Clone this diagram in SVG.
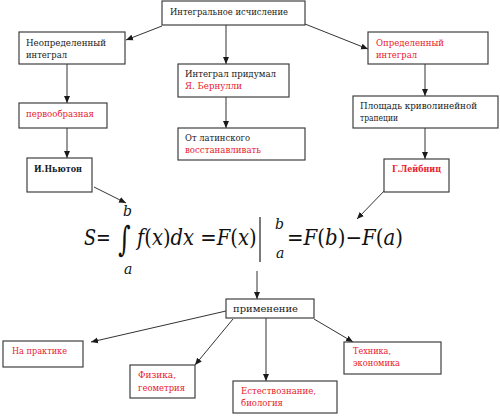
<svg xmlns="http://www.w3.org/2000/svg" width="500" height="417" viewBox="0 0 500 417">
<defs>
<marker id="ah" markerUnits="userSpaceOnUse" markerWidth="8" markerHeight="8" viewBox="0 0 8 8" refX="7" refY="4" orient="auto">
<path d="M0,1 L7,4 L0,7 Z" fill="#1a1a1a"/>
</marker>
</defs>
<style>
.box{fill:#fff;stroke:#404040;stroke-width:1.2}
text{font-family:'DejaVu Serif','Liberation Serif',serif}
.t{font-size:10px;fill:#1a1a1a}
.r{fill:#e8202e}
.b{font-weight:bold;font-size:9.5px}
.c{stroke:#333;stroke-width:1;fill:none;marker-end:url(#ah)}
.m{font-size:22px;fill:#111}
.i{font-style:italic}
.s{font-size:14px}
</style>
<rect width="500" height="417" fill="#fff"/>
<g id="connectors">
<line class="c" x1="162" y1="26" x2="126" y2="40"/>
<line class="c" x1="226" y1="25" x2="226" y2="64"/>
<line class="c" x1="305" y1="24" x2="368" y2="49"/>
<line class="c" x1="67" y1="64" x2="67" y2="103"/>
<line class="c" x1="67" y1="128" x2="67" y2="158"/>
<line class="c" x1="226" y1="97" x2="226" y2="128"/>
<line class="c" x1="425" y1="64" x2="425" y2="96"/>
<line class="c" x1="425" y1="128" x2="425" y2="159"/>
<line class="c" x1="94" y1="187" x2="126" y2="203"/>
<line class="c" x1="387" y1="188" x2="357" y2="219"/>
<line class="c" x1="257" y1="271" x2="257" y2="299"/>
<line class="c" x1="226" y1="311" x2="91" y2="342"/>
<line class="c" x1="233" y1="319" x2="195" y2="365"/>
<line class="c" x1="266" y1="318" x2="266" y2="381"/>
<line class="c" x1="314" y1="319" x2="353" y2="342"/>
</g>
<g id="n-top"><rect class="box" x="162" y="1" width="143" height="24"/><text class="t" x="170" y="15" textLength="118" lengthAdjust="spacingAndGlyphs">Интегральное исчисление</text></g>
<g id="n-indef"><rect class="box" x="19" y="32" width="106" height="32"/><text class="t" x="26" y="46" textLength="80" lengthAdjust="spacingAndGlyphs">Неопределенный</text><text class="t" x="26" y="58" textLength="41" lengthAdjust="spacingAndGlyphs">интеграл</text></g>
<g id="n-perv"><rect class="box" x="19" y="103" width="88" height="25"/><text class="t r" x="26" y="117" textLength="68" lengthAdjust="spacingAndGlyphs">первообразная</text></g>
<g id="n-newton"><rect class="box" x="27" y="158" width="65" height="34"/><text class="t b" x="34" y="172" textLength="48" lengthAdjust="spacingAndGlyphs">И.Ньютон</text></g>
<g id="n-bern"><rect class="box" x="178" y="64" width="111" height="33"/><text class="t" x="185" y="77" textLength="91" lengthAdjust="spacingAndGlyphs">Интеграл придумал</text><text class="t r" x="185" y="89" textLength="57" lengthAdjust="spacingAndGlyphs">Я. Бернулли</text></g>
<g id="n-lat"><rect class="box" x="178" y="128" width="127" height="32"/><text class="t" x="185" y="141" textLength="65" lengthAdjust="spacingAndGlyphs">От латинского</text><text class="t r" x="185" y="153" textLength="76" lengthAdjust="spacingAndGlyphs">восстанавливать</text></g>
<g id="n-def"><rect class="box" x="368" y="32" width="120" height="32"/><text class="t r" x="376" y="46" textLength="68" lengthAdjust="spacingAndGlyphs">Определенный</text><text class="t r" x="376" y="58" textLength="41" lengthAdjust="spacingAndGlyphs">интеграл</text></g>
<g id="n-area"><rect class="box" x="353" y="96" width="145" height="32"/><text class="t" x="360" y="109" textLength="117" lengthAdjust="spacingAndGlyphs">Площадь криволинейной</text><text class="t" x="360" y="121" textLength="38" lengthAdjust="spacingAndGlyphs">трапеции</text></g>
<g id="n-leib"><rect class="box" x="384" y="159" width="65" height="33"/><text class="t b r" x="392" y="172" textLength="49" lengthAdjust="spacingAndGlyphs">Г.Лейбниц</text></g>
<g id="formula">
<text class="m" transform="translate(84,245) scale(0.8,1)"><tspan class="i">S</tspan>=</text>
<text class="m" style="font-size:24px" transform="translate(118,251) scale(1,1.45)">∫</text>
<text class="m i s" x="123" y="216">b</text>
<text class="m i s" x="124" y="274">a</text>
<text class="m" transform="translate(137,245) scale(0.89,1)"><tspan class="i">f</tspan>(<tspan class="i">x</tspan>)<tspan class="i">dx</tspan> =<tspan class="i">F</tspan>(<tspan class="i">x</tspan>)</text>
<line x1="260" y1="217" x2="260" y2="262" stroke="#222" stroke-width="1.2"/>
<text class="m i s" x="275" y="229">b</text>
<text class="m i s" x="276" y="258">a</text>
<text class="m" transform="translate(287,245) scale(0.9,1)">=<tspan class="i">F</tspan>(<tspan class="i">b</tspan>)−<tspan class="i">F</tspan>(<tspan class="i">a</tspan>)</text>
</g>
<g id="n-app"><rect class="box" x="226" y="299" width="88" height="19"/><text class="t" x="233" y="312" textLength="65" lengthAdjust="spacingAndGlyphs">применение</text></g>
<g id="n-prac"><rect class="box" x="3" y="341" width="80" height="26"/><text class="t r" x="12" y="354" textLength="55" lengthAdjust="spacingAndGlyphs">На практике</text></g>
<g id="n-phys"><rect class="box" x="130" y="365" width="65" height="33"/><text class="t r" x="138" y="378" textLength="38" lengthAdjust="spacingAndGlyphs">Физика,</text><text class="t r" x="138" y="391" textLength="47" lengthAdjust="spacingAndGlyphs">геометрия</text></g>
<g id="n-nat"><rect class="box" x="233" y="381" width="104" height="32"/><text class="t r" x="241" y="394" textLength="75" lengthAdjust="spacingAndGlyphs">Естествознание,</text><text class="t r" x="241" y="406" textLength="42" lengthAdjust="spacingAndGlyphs">биология</text></g>
<g id="n-tech"><rect class="box" x="344" y="342" width="97" height="32"/><text class="t r" x="353" y="354" textLength="38" lengthAdjust="spacingAndGlyphs">Техника,</text><text class="t r" x="353" y="366" textLength="47" lengthAdjust="spacingAndGlyphs">экономика</text></g>
</svg>
